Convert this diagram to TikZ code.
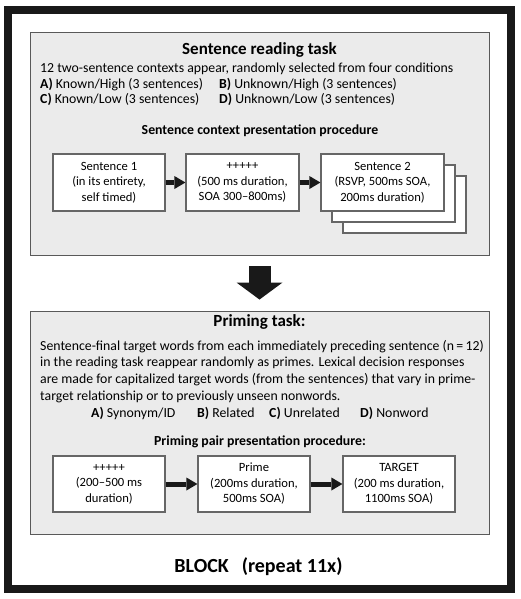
\documentclass[tikz,border=0pt]{standalone}
\usepackage{fontspec}
\setmainfont{Carlito}
\usetikzlibrary{arrows.meta}

\tikzset{
  panel/.style={draw=black!65, line width=0.9pt, fill=black!8, inner sep=0pt,
    minimum width=459pt, minimum height=223pt},
  stage/.style={draw=black!60, line width=1.2pt, fill=white, align=center, inner sep=0pt,
    minimum height=57pt, font=\fontsize{12.6}{15.5}\selectfont},
  flow/.style={line width=5pt, draw=black!90, -{Triangle[width=13pt,length=11pt,line width=0pt]}},
  body/.style={font=\fontsize{13.8}{16.7}\selectfont, inner sep=0pt, align=left},
  heading/.style={font=\fontsize{13.8}{16}\selectfont\bfseries, inner sep=0pt},
  title/.style={font=\fontsize{17}{20}\selectfont\bfseries, inner sep=0pt},
}

\begin{document}
\begin{tikzpicture}[x=1pt,y=-1pt]
\useasboundingbox (0,0) rectangle (521,599);
\draw[line width=8pt, black!90] (8,10) rectangle (511,589);

% sentence reading task
\node[panel] (reading) at (259.5,143.5) {};
\node[title] (readtitle) at (259.5,50) {Sentence reading task};
\node[body, anchor=west] (readintro) at (40,69) {12 two-sentence contexts appear, randomly selected from four conditions};
\node[body, anchor=north west, font=\fontsize{13.8}{15}\selectfont] (condac) at (40,78) {\textbf{A)} Known/High (3 sentences)\\\textbf{C)} Known/Low (3 sentences)};
\node[body, anchor=north west, font=\fontsize{13.8}{15}\selectfont] (condbd) at (219,78) {\textbf{B)} Unknown/High (3 sentences)\\\textbf{D)} Unknown/Low (3 sentences)};
\node[heading] (readproc) at (260,131) {Sentence context presentation procedure};

\node[stage, minimum width=112pt] (sent1) at (109,182.5) {Sentence 1\\(in its entirety,\\self timed)};
\node[stage, minimum width=113pt] (fix1) at (242.5,182.5) {+++++\\(500 ms duration,\\SOA 300--800ms)};
\node[stage, minimum width=123pt] (sent2c) at (404.5,204.5) {};
\node[stage, minimum width=123pt] (sent2b) at (393.5,193.5) {};
\node[stage, minimum width=123pt] (sent2) at (382.5,182.5) {Sentence 2\\(RSVP, 500ms SOA,\\200ms duration)};
\draw[flow] (sent1) -- (fix1);
\draw[flow] (fix1) -- (sent2);

% priming task
\node[panel] (priming) at (259.5,422.5) {};
\node[title] (primetitle) at (259.5,322) {Priming task:};
\node[body, anchor=north west] (primetext) at (40,340) {Sentence-final target words from each immediately preceding sentence (n\,=\,12)\\in the reading task reappear randomly as primes. Lexical decision responses\\are made for capitalized target words (from the sentences) that vary in prime-\\target relationship or to previously unseen nonwords.};
\node[body, anchor=west] (typea) at (91,413) {\textbf{A)} Synonym/ID};
\node[body, anchor=west] (typeb) at (197,413) {\textbf{B)} Related};
\node[body, anchor=west] (typec) at (269,413) {\textbf{C)} Unrelated};
\node[body, anchor=west] (typed) at (360,413) {\textbf{D)} Nonword};
\node[heading] (primeproc) at (260,442) {Priming pair presentation procedure:};

% block arrow
\draw[line width=22pt, black!90, -{Triangle[width=46pt,length=17pt,line width=0pt]},
  shorten <=11pt, shorten >=11pt] (reading) -- (priming);

\node[stage, minimum width=112pt, minimum height=56pt] (fix2) at (109,484) {+++++\\(200--500 ms\\duration)};
\node[stage, minimum width=112pt, minimum height=56pt] (prime) at (254,484) {Prime\\(200ms duration,\\500ms SOA)};
\node[stage, minimum width=112pt, minimum height=56pt] (target) at (399,484) {TARGET\\(200 ms duration,\\1100ms SOA)};
\draw[flow] (fix2) -- (prime);
\draw[flow] (prime) -- (target);

\node[title, font=\fontsize{20}{24}\selectfont\bfseries] (block) at (258.5,567) {BLOCK\hspace{13pt}(repeat 11x)};
\end{tikzpicture}
\end{document}
